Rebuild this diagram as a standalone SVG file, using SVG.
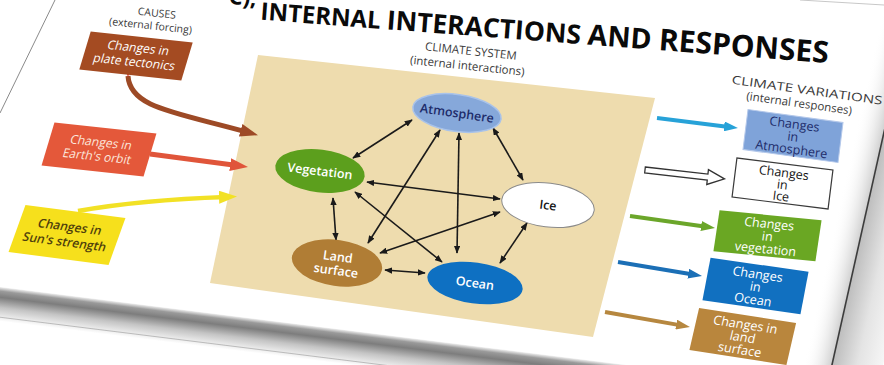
<svg xmlns="http://www.w3.org/2000/svg" width="884" height="365" viewBox="0 0 884 365">
<style>
text{font-family:"Open Sans","Liberation Sans",sans-serif;text-anchor:middle}
.hd{font-size:10.5px;fill:#3a3a3a}
.hd2{font-size:11.5px;fill:#3a3a3a}
.bt{font-size:12px}
.rt{font-size:12.5px}
.el{font-size:12.5px;font-weight:600}
.w{fill:#ffffff}
.nv{fill:#1e2c6a}
.k{fill:#141414}
.ol{fill:#4f3f0c;font-weight:600}
.ln{fill:none;stroke:#1a1a1a;stroke-width:1.6;marker-start:url(#ah);marker-end:url(#ah)}
.title{font-family:"Open Sans","Liberation Sans",sans-serif;font-weight:bold;fill:#0a0a0a;text-anchor:start}
</style>
<defs>
<marker id="ah" viewBox="0 0 10 8" refX="9" refY="4" markerWidth="8" markerHeight="6.4" markerUnits="userSpaceOnUse" orient="auto-start-reverse"><path d="M0,0 L10,4 L0,8 z" fill="#1a1a1a"/></marker>
<marker id="mBr" viewBox="0 0 18 13" refX="7" refY="6.5" markerWidth="18" markerHeight="13" markerUnits="userSpaceOnUse" orient="auto"><path d="M0,0 L18,6.5 L0,13 z" fill="#9d4a26"/></marker>
<marker id="mOr" viewBox="0 0 18 13" refX="7" refY="6.5" markerWidth="18" markerHeight="13" markerUnits="userSpaceOnUse" orient="auto"><path d="M0,0 L18,6.5 L0,13 z" fill="#e0553a"/></marker>
<marker id="mYe" viewBox="0 0 18 13" refX="7" refY="6.5" markerWidth="18" markerHeight="13" markerUnits="userSpaceOnUse" orient="auto"><path d="M0,0 L18,6.5 L0,13 z" fill="#f2e125"/></marker>
<marker id="mBl" viewBox="0 0 14 10" refX="5" refY="5" markerWidth="14" markerHeight="10" markerUnits="userSpaceOnUse" orient="auto"><path d="M0,0 L14,5 L0,10 z" fill="#27a2d8"/></marker>
<marker id="mGr" viewBox="0 0 14 10" refX="5" refY="5" markerWidth="14" markerHeight="10" markerUnits="userSpaceOnUse" orient="auto"><path d="M0,0 L14,5 L0,10 z" fill="#6ba62a"/></marker>
<marker id="mDb" viewBox="0 0 14 10" refX="5" refY="5" markerWidth="14" markerHeight="10" markerUnits="userSpaceOnUse" orient="auto"><path d="M0,0 L14,5 L0,10 z" fill="#1b6fb6"/></marker>
<marker id="mLb" viewBox="0 0 14 10" refX="5" refY="5" markerWidth="14" markerHeight="10" markerUnits="userSpaceOnUse" orient="auto"><path d="M0,0 L14,5 L0,10 z" fill="#b6873f"/></marker>
<linearGradient id="gBot" x1="0" y1="0" x2="0" y2="1">
<stop offset="0" stop-color="#f0f0f0"/><stop offset="0.12" stop-color="#9a9a9a"/><stop offset="0.3" stop-color="#7d7d7d"/><stop offset="0.6" stop-color="#c4c4c4"/><stop offset="1" stop-color="#ffffff"/>
</linearGradient>
<linearGradient id="gIn" x1="0" y1="0" x2="1" y2="0">
<stop offset="0" stop-color="#ffffff" stop-opacity="0"/><stop offset="1" stop-color="#cfcfcf"/>
</linearGradient>
<linearGradient id="gOut" x1="0" y1="0" x2="1" y2="0">
<stop offset="0" stop-color="#bdbdbd"/><stop offset="0.5" stop-color="#e4e4e4"/><stop offset="1" stop-color="#f6f6f6"/>
</linearGradient>
<path id="tp" d="M260,19.5 L900,68.5"/>
</defs>

<rect width="884" height="365" fill="#ffffff"/>

<!-- slide edges -->
<g id="slide-edges">
<line x1="55" y1="0" x2="0" y2="113" stroke="#8a8a8a" stroke-width="1"/>
<g transform="translate(880,150) rotate(12.6)">
<rect x="-28" y="-200" width="28" height="450" fill="url(#gIn)"/>
<rect x="0" y="-200" width="50" height="450" fill="url(#gOut)"/>
<line x1="0" y1="-200" x2="0" y2="250" stroke="#3c3c3c" stroke-width="1.6"/>
</g>
<g transform="translate(0,287) rotate(7.1)">
<rect x="-20" y="0" width="1000" height="34" fill="url(#gBot)"/>
<line x1="-20" y1="30" x2="980" y2="30" stroke="#b0b0b0" stroke-width="0.8"/>
</g>
<line x1="800" y1="0" x2="884" y2="5" stroke="#c8c8c8" stroke-width="1"/>
</g>

<!-- title -->
<text class="title" x="256" y="6" font-size="22" style="text-anchor:end" transform="rotate(4.6 256 6)">C),</text>
<text class="title"><textPath href="#tp"><tspan font-size="24">INTERNAL </tspan><tspan font-size="26.5">INTERACTIONS </tspan><tspan font-size="28.5">AND </tspan><tspan font-size="30">RESPONSES</tspan></textPath></text>

<!-- headings -->
<g id="heading-causes" transform="rotate(6 158 22)">
<text class="hd" x="156" y="17">CAUSES</text>
<text class="hd" x="151" y="30">(external forcing)</text>
</g>
<g id="heading-system" transform="rotate(6 470 60)">
<text class="hd2" x="470" y="55">CLIMATE SYSTEM</text>
<text class="hd2" x="468" y="70">(internal interactions)</text>
</g>
<g id="heading-variations" transform="rotate(8 805 98)">
<text class="hd2" x="806" y="94" textLength="152" lengthAdjust="spacingAndGlyphs">CLIMATE VARIATIONS</text>
<text class="hd2" x="800" y="108">(internal responses)</text>
</g>

<!-- climate system panel -->
<polygon id="system-panel" points="258,55 655,98 593,337 210,283" fill="#eedcae"/>

<!-- connectors -->
<g id="connectors">
<path d="M128,76 C130,108 175,112 247.4,132.2" fill="none" stroke="#9d4a26" stroke-width="5" marker-end="url(#mBr)"/>
<polygon points="124.5,67 131.5,67 128,77" fill="#e3221c"/>
<line x1="150" y1="154" x2="237.1" y2="165.5" stroke="#e0553a" stroke-width="5" marker-end="url(#mOr)"/>
<path d="M78,211 Q140,200 226,197" fill="none" stroke="#f2e125" stroke-width="4.5" marker-end="url(#mYe)"/>

<line class="ln" x1="412" y1="120" x2="353" y2="158"/>
<line class="ln" x1="440" y1="130" x2="368" y2="243"/>
<line class="ln" x1="459" y1="133" x2="457" y2="253"/>
<line class="ln" x1="493" y1="128" x2="523" y2="180"/>
<line class="ln" x1="367" y1="182" x2="500" y2="199"/>
<line class="ln" x1="355" y1="192" x2="442" y2="262"/>
<line class="ln" x1="333" y1="198" x2="336" y2="240"/>
<line class="ln" x1="380" y1="253" x2="500" y2="212"/>
<line class="ln" x1="385" y1="270" x2="425" y2="273"/>
<line class="ln" x1="527" y1="223" x2="500" y2="263"/>

<line x1="657" y1="118" x2="729" y2="127" stroke="#27a2d8" stroke-width="4" marker-end="url(#mBl)"/>
<polygon transform="translate(645,170) rotate(6.4)" points="0,-3 63,-3 63,-7.5 80,0 63,7.5 63,3 0,3" fill="#ffffff" stroke="#333333" stroke-width="1.3"/>
<line x1="630" y1="216" x2="706.1" y2="226.7" stroke="#6ba62a" stroke-width="4" marker-end="url(#mGr)"/>
<line x1="618" y1="262" x2="693.1" y2="274.5" stroke="#1b6fb6" stroke-width="4" marker-end="url(#mDb)"/>
<line x1="605" y1="312" x2="681.1" y2="325.4" stroke="#b6873f" stroke-width="4" marker-end="url(#mLb)"/>
</g>

<!-- causes -->
<g id="cause-plate-tectonics" transform="translate(136,56) matrix(1,0.108,-0.3,1,0,0)">
<rect x="-51" y="-19" width="102" height="38" fill="#a44b22"/>
<text class="bt w" y="-4">Changes in</text>
<text class="bt w" y="10">plate tectonics</text>
</g>
<g id="cause-earth-orbit" transform="translate(99,149.5) matrix(1,0.108,-0.3,1,0,0)">
<rect x="-51" y="-21.5" width="102" height="43" fill="#e4583a"/>
<text class="bt" fill="#fbe6dc" y="-3">Changes in</text>
<text class="bt" fill="#fbe6dc" y="11">Earth's orbit</text>
</g>
<g id="cause-sun-strength" transform="translate(67,235) matrix(1,0.13,-0.36,1,0,0)">
<rect x="-50" y="-23.5" width="100" height="47" fill="#f6e01c"/>
<text class="bt ol" y="-4">Changes in</text>
<text class="bt ol" y="11">Sun's strength</text>
</g>

<!-- climate system nodes -->
<g id="node-atmosphere" transform="translate(457,113) rotate(8)">
<ellipse rx="44.5" ry="18.5" fill="#86a8da" stroke="#a9c3ea" stroke-width="1.5"/>
<text class="el nv" y="4.5">Atmosphere</text>
</g>
<g id="node-vegetation" transform="translate(320,171) rotate(7)">
<ellipse rx="45" ry="21.5" fill="#5c9f1d"/>
<text class="el w" y="4.5">Vegetation</text>
</g>
<g id="node-ice" transform="translate(548,205) rotate(7)">
<ellipse rx="46.5" ry="22" fill="#ffffff" stroke="#8a8a8a" stroke-width="1"/>
<text class="el k" y="4.5">Ice</text>
</g>
<g id="node-land-surface" transform="translate(337,263) rotate(8)">
<ellipse rx="45.5" ry="23" fill="#b07d35"/>
<text class="el w" y="-2">Land</text>
<text class="el w" y="12">surface</text>
</g>
<g id="node-ocean" transform="translate(475,283) rotate(8)">
<ellipse rx="48" ry="20.5" fill="#0e70c2"/>
<text class="el w" y="4.5">Ocean</text>
</g>

<!-- responses -->
<g id="resp-atmosphere" transform="translate(793,136) matrix(1,0.137,-0.125,1,0,0)">
<rect x="-47.5" y="-20" width="95" height="40" fill="#7fa3d9" stroke="#b4c8ea" stroke-width="1"/>
<text class="rt nv" y="-7.5">Changes</text>
<text class="rt nv" y="5">in</text>
<text class="rt nv" y="17.5">Atmosphere</text>
</g>
<g id="resp-ice" transform="translate(782.5,183.5) matrix(1,0.125,-0.125,1,0,0)">
<rect x="-48" y="-19.5" width="96" height="39" fill="#ffffff" stroke="#3a3a3a" stroke-width="1.2"/>
<text class="rt k" y="-6.5">Changes</text>
<text class="rt k" y="5.5">in</text>
<text class="rt k" y="17">Ice</text>
</g>
<g id="resp-vegetation" transform="translate(767.5,235.75) matrix(1,0.098,-0.15,1,0,0)">
<rect x="-51" y="-20.5" width="102" height="41" fill="#6aa723"/>
<text class="rt w" y="-7.5">Changes</text>
<text class="rt w" y="5">in</text>
<text class="rt w" y="17.5">vegetation</text>
</g>
<g id="resp-ocean" transform="translate(755.5,286) matrix(1,0.143,-0.19,1,0,0)">
<rect x="-49" y="-21.25" width="98" height="42.5" fill="#1170c0"/>
<text class="rt w" y="-7.5">Changes</text>
<text class="rt w" y="5">in</text>
<text class="rt w" y="18">Ocean</text>
</g>
<g id="resp-land-surface" transform="translate(742.75,336.5) matrix(1,0.155,-0.23,1,0,0)">
<rect x="-48.5" y="-21" width="97" height="42" fill="#b9863d"/>
<text class="rt w" y="-7.5">Changes in</text>
<text class="rt w" y="5">land</text>
<text class="rt w" y="17.5">surface</text>
</g>
</svg>
